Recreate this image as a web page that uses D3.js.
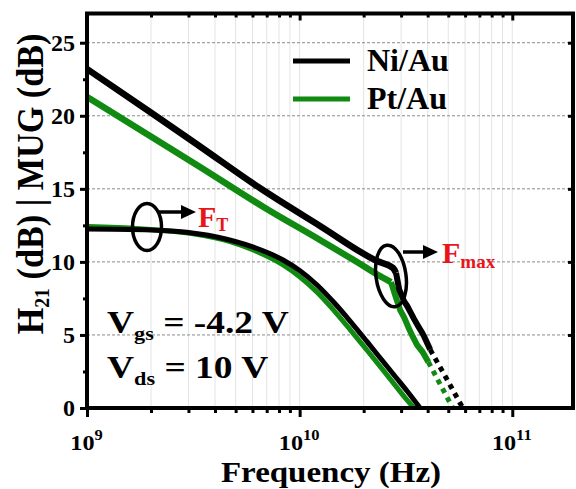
<!DOCTYPE html>
<html>
<head>
<meta charset="utf-8">
<script src="https://cdn.jsdelivr.net/npm/d3@7"></script>
<style>
body { margin: 0; background: #fff; }
text { font-family: "Liberation Serif", "Times New Roman", Times, "DejaVu Serif", serif; font-weight: bold; }
</style>
</head>
<body>
<svg width="576" height="489"></svg>
<script>
// MUG curves (solid part + dotted extrapolation)
const niMugFreq = [1e9, 1.98e9, 3.4e9, 6.58e9, 1.247e10, 2.31e10, 2.75e10, 2.84e10, 2.94e10, 3.1e10, 3.2e10, 3.31e10, 3.45e10, 3.61e10, 3.75e10, 3.85e10, 4.11e10];
const niMug     = [23.2, 20.26, 17.9, 15.0, 12.46, 10.06, 9.58, 9.25, 8.1, 7.3, 7.0, 6.6, 6.1, 5.6, 5.2, 4.9, 4.0];
const niMugDotFreq = [4.11e10, 4.89e10, 5.85e10];
const niMugDot     = [4.0, 2.05, 0];

const ptMugFreq = [1e9, 1.98e9, 3.4e9, 6.88e9, 1.247e10, 1.862e10, 2.338e10, 2.69e10, 2.81e10, 2.97e10, 3.1e10, 3.24e10, 3.4e10, 3.57e10, 3.8e10, 4.03e10];
const ptMug     = [21.29, 18.62, 16.5, 13.69, 11.5, 9.99, 9.1, 8.62, 7.75, 6.7, 6.2, 5.55, 4.9, 4.3, 3.8, 3.15];
const ptMugDotFreq = [4.03e10, 5.25e10];
const ptMugDot     = [3.15, 0];

// H21 curves
const niH21Freq = [1e9, 1.59e9, 2.59e9, 4.13e9, 5.97e9, 8.36e9, 1.004e10, 1.208e10, 1.451e10, 1.727e10, 2.075e10, 2.469e10, 2.84e10, 3.2e10, 3.685e10];
const niH21     = [12.25, 12.22, 12.1, 11.69, 11.04, 10.13, 9.4, 8.42, 7.22, 5.95, 4.54, 3.18, 2.09, 1.16, 0];
const ptH21Freq = [1e9, 1.775e9, 3.05e9, 4.71e9, 5.97e9, 8.36e9, 1.004e10, 1.208e10, 1.451e10, 1.727e10, 2.075e10, 2.469e10, 2.84e10, 3.13e10, 3.45e10];
const ptH21     = [12.42, 12.27, 11.96, 11.39, 10.85, 9.79, 8.97, 7.93, 6.67, 5.37, 3.95, 2.59, 1.48, 0.71, 0];

const yMajor = [0, 5, 10, 15, 20, 25];
const yMinor = [2.5, 7.5, 12.5, 17.5, 22.5];
const xMajor = [1e9, 1e10, 1e11];
const xExp = ['9', '10', '11'];
const seriesNames = ['Ni/Au', 'Pt/Au'];

const black = '#000';
const green = '#108a10';
const red = '#e8161c';

const svg = d3.select('svg');
const pLeft = 87, pRight = 573, pTop = 13.5, pBottom = 408;

const x = d3.scaleLog().domain([1e9, 1.93e11]).range([pLeft, pRight]);
const y = d3.scaleLinear().domain([0, 27]).range([pBottom, pTop]);

const xMinor = x.ticks().filter(t => xMajor.indexOf(t) < 0);

// grid
svg.append('g').selectAll('line').data(x.ticks().filter(t => t > 1e9))
  .enter().append('line')
  .attr('x1', d => x(d)).attr('x2', d => x(d))
  .attr('y1', pTop).attr('y2', pBottom)
  .attr('stroke', '#e4e4e4').attr('stroke-width', 1);

svg.append('g').selectAll('line').data(yMajor.filter(v => v > 0))
  .enter().append('line')
  .attr('x1', pLeft).attr('x2', pRight)
  .attr('y1', d => y(d)).attr('y2', d => y(d))
  .attr('stroke', '#8a8a8a').attr('stroke-width', 1)
  .attr('stroke-dasharray', '3,2');

// curves
const line = d3.line().x(d => x(d[0])).y(d => y(d[1]));
const smooth = d3.line().x(d => x(d[0])).y(d => y(d[1])).curve(d3.curveMonotoneX);
const zip = (a, b) => a.map((v, i) => [v, b[i]]);

const drawPath = (gen, data, color, w, dash) => {
  const p = svg.append('path').datum(data)
    .attr('d', gen)
    .attr('fill', 'none')
    .attr('stroke', color)
    .attr('stroke-width', w)
    .attr('stroke-linejoin', 'round');
  if (dash) p.attr('stroke-dasharray', dash);
  return p;
};

drawPath(smooth, zip(ptH21Freq, ptH21), green, 5);
drawPath(smooth, zip(niH21Freq, niH21), black, 5);
drawPath(smooth, zip(ptMugFreq.slice(0, 8), ptMug.slice(0, 8)), green, 6.5);
drawPath(line, zip(ptMugFreq.slice(7), ptMug.slice(7)), green, 6);
drawPath(line, zip(ptMugDotFreq, ptMugDot), green, 5, '5,5');
drawPath(smooth, zip(niMugFreq.slice(0, 8), niMug.slice(0, 8)), black, 6.5);
drawPath(line, zip(niMugFreq.slice(7), niMug.slice(7)), black, 6);
drawPath(line, zip(niMugDotFreq, niMugDot), black, 5, '5,5');

// axes
const styleAxis = g => {
  g.select('.domain').remove();
  g.selectAll('.tick line').attr('stroke', '#000').attr('stroke-width', 3);
};

svg.append('g').attr('transform', `translate(0,${pBottom})`)
  .call(d3.axisBottom(x).tickValues(xMinor).tickSize(5).tickFormat(''))
  .call(styleAxis);
const xAx = svg.append('g').attr('transform', `translate(0,${pBottom})`)
  .call(d3.axisBottom(x).tickValues(xMajor).tickSize(9).tickFormat(''))
  .call(styleAxis);
xAx.selectAll('.tick').append('text')
  .attr('transform', 'translate(-1,42) scale(1.1,1)')
  .attr('fill', '#000').attr('font-size', 22).attr('text-anchor', 'middle')
  .each(function (d, i) {
    const t = d3.select(this);
    t.append('tspan').text('10');
    t.append('tspan').attr('font-size', 15).attr('dy', -10).text(xExp[i]);
  });

svg.append('g').attr('transform', `translate(0,${pTop})`)
  .call(d3.axisBottom(x).tickValues(xMinor).tickSize(4).tickFormat(''))
  .call(styleAxis);
svg.append('g').attr('transform', `translate(0,${pTop})`)
  .call(d3.axisBottom(x).tickValues(xMajor).tickSize(7).tickFormat(''))
  .call(styleAxis);

const yAx = svg.append('g').attr('transform', `translate(${pLeft},0)`)
  .call(d3.axisLeft(y).tickValues(yMajor).tickSize(7).tickPadding(5))
  .call(styleAxis);
yAx.selectAll('.tick text').attr('font-size', 24).attr('fill', '#000');
svg.append('g').attr('transform', `translate(${pLeft},0)`)
  .call(d3.axisLeft(y).tickValues(yMinor).tickSize(4).tickFormat(''))
  .call(styleAxis);
svg.append('g').attr('transform', `translate(${pRight},0)`)
  .call(d3.axisLeft(y).tickValues(yMajor).tickSize(5).tickFormat(''))
  .call(styleAxis);

// frame
svg.append('rect')
  .attr('x', pLeft).attr('y', pTop)
  .attr('width', pRight - pLeft).attr('height', pBottom - pTop)
  .attr('fill', 'none').attr('stroke', '#000').attr('stroke-width', 4);

// axis titles
svg.append('text')
  .attr('transform', 'translate(331,482) scale(1.1,1)')
  .attr('text-anchor', 'middle').attr('font-size', 30)
  .text('Frequency (Hz)');

const yt = svg.append('text')
  .attr('transform', 'translate(43,184) rotate(-90) scale(0.9,1)')
  .attr('text-anchor', 'middle').attr('font-size', 38);
yt.append('tspan').text('H');
yt.append('tspan').attr('font-size', 22).attr('dy', 6).text('21');
yt.append('tspan').attr('dy', -6).text(' (dB) | MUG (dB)');

// legend
const legend = svg.append('g');
seriesNames.forEach((name, i) => {
  const ly = 61 + i * 38;
  legend.append('line')
    .attr('x1', 293).attr('x2', 350).attr('y1', ly).attr('y2', ly)
    .attr('stroke', i === 0 ? black : green).attr('stroke-width', 5);
  legend.append('text')
    .attr('x', 367).attr('y', ly + 10)
    .attr('font-size', 32).text(name);
});

// bias conditions
const bias = [['gs', ' = -4.2 V', 333], ['ds', ' = 10 V', 378]];
bias.forEach(b => {
  const t = svg.append('text')
    .attr('transform', `translate(107,${b[2]}) scale(1.17,1)`)
    .attr('font-size', 32);
  t.append('tspan').text('V');
  t.append('tspan').attr('font-size', 19).attr('dy', 7).text(b[0]);
  t.append('tspan').attr('dy', -7).text(b[1]);
});

// annotations
const arrow = (x1, x2, yy) => {
  svg.append('line').attr('x1', x1).attr('x2', x2 - 12).attr('y1', yy).attr('y2', yy)
    .attr('stroke', '#000').attr('stroke-width', 3.5);
  svg.append('path')
    .attr('d', `M${x2},${yy} L${x2 - 15},${yy - 7} L${x2 - 15},${yy + 7} Z`)
    .attr('fill', '#000');
};

svg.append('ellipse').attr('cx', 147).attr('cy', 227).attr('rx', 14.5).attr('ry', 23.5)
  .attr('fill', 'none').attr('stroke', '#000').attr('stroke-width', 3.5);
arrow(158, 196, 212);
const ft = svg.append('text').attr('x', 198).attr('y', 227).attr('fill', red).attr('font-size', 30);
ft.append('tspan').text('F');
ft.append('tspan').attr('font-size', 18).attr('dy', 4).text('T');

svg.append('ellipse').attr('cx', 0).attr('cy', 0).attr('rx', 15).attr('ry', 31)
  .attr('transform', 'translate(391,276) rotate(-8)')
  .attr('fill', 'none').attr('stroke', '#000').attr('stroke-width', 3.5);
arrow(403, 438, 252);
const fm = svg.append('text').attr('x', 442).attr('y', 263).attr('fill', red).attr('font-size', 30);
fm.append('tspan').text('F');
fm.append('tspan').attr('font-size', 19).attr('dy', 5).text('max');
</script>
</body>
</html>
